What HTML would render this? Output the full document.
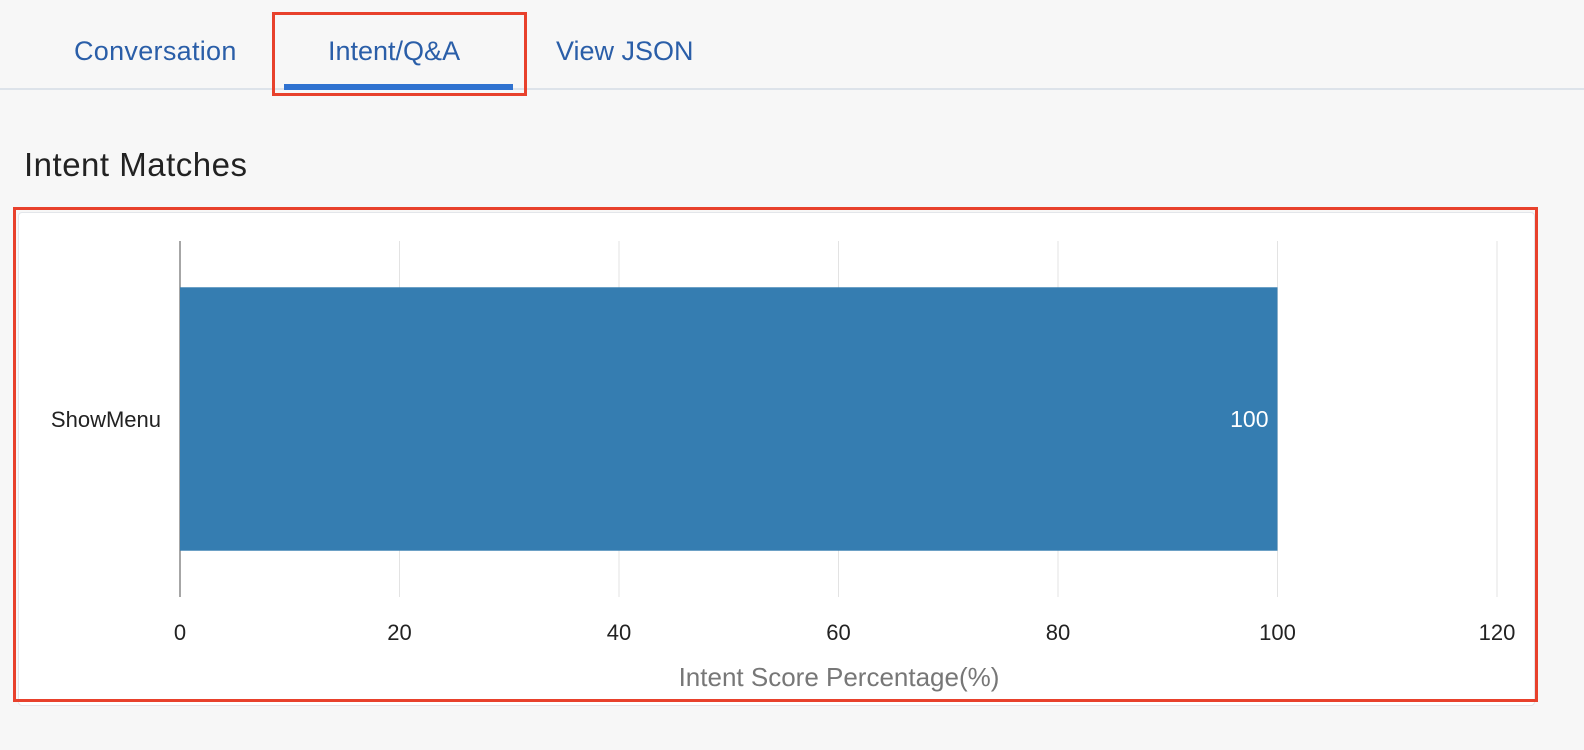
<!DOCTYPE html>
<html><head><meta charset="utf-8"><style>
body{margin:0;width:1584px;height:750px;background:#f7f7f7;font-family:"Liberation Sans",sans-serif;position:relative;overflow:hidden}
.abs{position:absolute}
.tab{position:absolute;top:36px;font-size:27px;color:#2a5ea8;white-space:nowrap}
</style></head><body>
<div class="abs" style="left:0;top:88px;width:1584px;height:2px;background:#dde3ea"></div>
<div class="tab" style="left:74px;letter-spacing:0.3px">Conversation</div>
<div class="tab" style="left:328px">Intent/Q&amp;A</div>
<div class="tab" style="left:556px">View JSON</div>
<div class="abs" style="left:284px;top:84px;width:229px;height:6px;background:#2f72d0"></div>
<div class="abs" style="left:272px;top:12px;width:249px;height:78px;border:3px solid #e8412c"></div>
<div class="abs" style="left:24px;top:146px;font-size:33px;color:#222;letter-spacing:0.5px">Intent Matches</div>
<div class="abs" style="left:18px;top:212px;width:1515px;height:492px;background:#fff;border:1px solid #e3e6ea;border-radius:4px"></div>
<div class="abs" style="left:13px;top:207px;width:1519px;height:489px;border:3px solid #e8412c"></div>
<svg class="abs" style="left:0;top:0" width="1584" height="750" id="chart"></svg>
<script>
const categories=["ShowMenu"];
const values=[100];
const ticks=[0,20,40,60,80,100,120];
const svg=document.getElementById('chart');
const NS='http://www.w3.org/2000/svg';
const x0=180,x1=1497,yTop=241,yBot=597;
const xs=v=>x0+(v-0)/(120-0)*(x1-x0);
function mk(t,a){const e=document.createElementNS(NS,t);for(const k in a)e.setAttribute(k,a[k]);svg.appendChild(e);return e;}
ticks.forEach(t=>{
 const g=mk('line',{x1:xs(t),x2:xs(t),y1:yTop,y2:yBot,stroke:t===0?'#888':'#e3e3e3','stroke-width':t===0?1.5:1});
 
 
 const l=mk('text',{x:xs(t),y:640,'text-anchor':'middle','font-size':22,fill:'#222','font-family':'Liberation Sans'});
 l.textContent=t;
 
 
});
const band=(yBot-yTop)/categories.length;
categories.forEach((c,i)=>{
 const yc=yTop+band*(i+0.5);
 const h=band*0.74;
 const r=mk('rect',{x:xs(0),y:yc-h/2,width:xs(values[i])-xs(0),height:h,fill:'#357db1'});
 
 
 const v=mk('text',{x:xs(values[i])-9,y:yc+8,'text-anchor':'end','font-size':23,fill:'#fff','font-family':'Liberation Sans'});
 v.textContent=values[i];
 
 
 const cl=mk('text',{x:161,y:yc+8,'text-anchor':'end','font-size':22,fill:'#222','font-family':'Liberation Sans'});
 cl.textContent=c;
 
 
});
const at=mk('text',{x:839,y:686,'text-anchor':'middle','font-size':26,fill:'#777','font-family':'Liberation Sans'});
at.textContent='Intent Score Percentage(%)';


</script>
</body></html>
